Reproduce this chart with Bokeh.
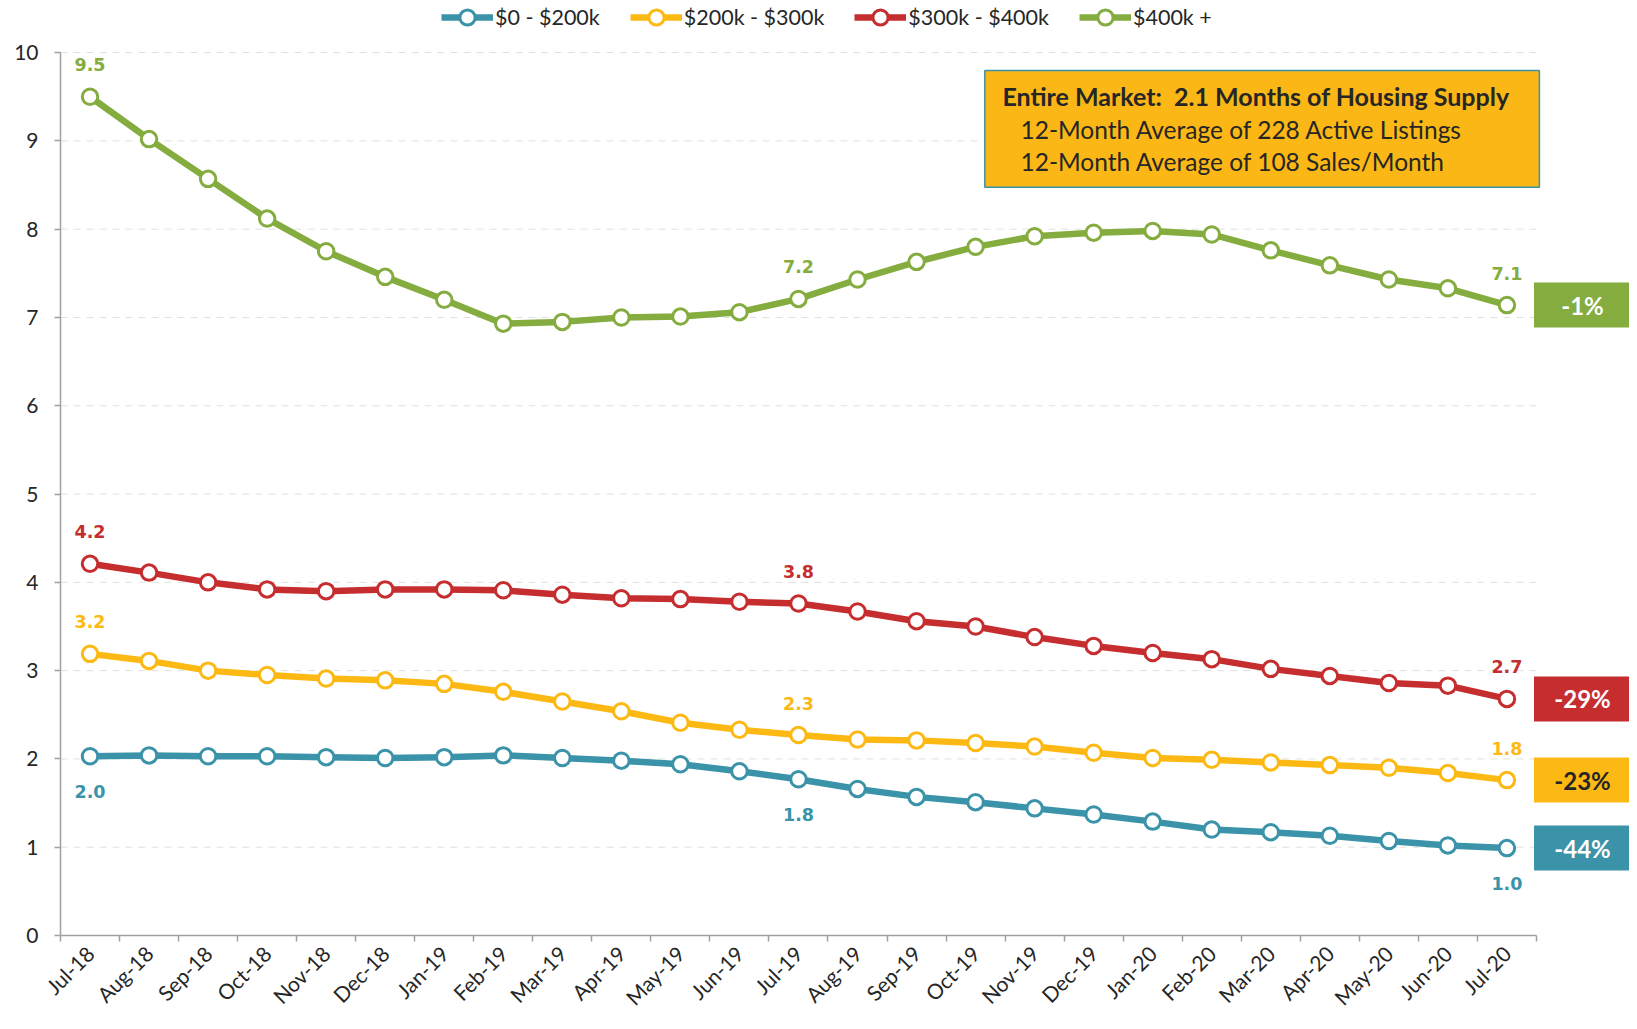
import math
from bokeh.plotting import figure
from bokeh.models import (ColumnDataSource, Range1d, FixedTicker, Legend, LegendItem,
                          BoxAnnotation, Label)
from bokeh.core.properties import value
from bokeh.embed import file_html
from bokeh.resources import INLINE

# ---------------- data ----------------
months = ["Jul-18", "Aug-18", "Sep-18", "Oct-18", "Nov-18", "Dec-18", "Jan-19", "Feb-19",
          "Mar-19", "Apr-19", "May-19", "Jun-19", "Jul-19", "Aug-19", "Sep-19", "Oct-19",
          "Nov-19", "Dec-19", "Jan-20", "Feb-20", "Mar-20", "Apr-20", "May-20", "Jun-20",
          "Jul-20"]

series_names = ["$0 - $200k", "$200k - $300k", "$300k - $400k", "$400k +"]

s_0_200 = [2.03, 2.04, 2.03, 2.03, 2.02, 2.01, 2.02, 2.04, 2.01, 1.98, 1.94, 1.86, 1.77,
           1.66, 1.57, 1.51, 1.44, 1.37, 1.29, 1.20, 1.17, 1.13, 1.07, 1.02, 0.99]
s_200_300 = [3.19, 3.11, 3.00, 2.95, 2.91, 2.89, 2.85, 2.76, 2.65, 2.54, 2.41, 2.33, 2.27,
             2.22, 2.21, 2.18, 2.14, 2.07, 2.01, 1.99, 1.96, 1.93, 1.90, 1.84, 1.76]
s_300_400 = [4.21, 4.11, 4.00, 3.92, 3.90, 3.92, 3.92, 3.91, 3.86, 3.82, 3.81, 3.78, 3.76,
             3.67, 3.56, 3.50, 3.38, 3.28, 3.20, 3.13, 3.02, 2.94, 2.86, 2.83, 2.68]
s_400_up = [9.50, 9.02, 8.57, 8.12, 7.75, 7.46, 7.20, 6.93, 6.95, 7.00, 7.01, 7.06, 7.21,
            7.43, 7.63, 7.80, 7.92, 7.96, 7.98, 7.94, 7.76, 7.59, 7.43, 7.33, 7.14]

yoy_change = ["-44%", "-23%", "-29%", "-1%"]
y_ticks = [0, 1, 2, 3, 4, 5, 6, 7, 8, 9, 10]

info_title = "Entire Market:\u00a0 2.1 Months of Housing Supply"
info_lines = ["12-Month Average of 228 Active Listings", "12-Month Average of 108 Sales/Month"]

# ---------------- style ----------------
FONT = "Lato"
LABEL_FONT = "DejaVu Sans"
colors = ["#3A93A8", "#FDB913", "#C62D2F", "#84AC3E"]
badge_text_colors = ["white", "#262626", "white", "white"]
label_below = [True, False, False, False]
TEXT = "#262626"
AXIS = "#A0A0A0"

series_values = [s_0_200, s_200_300, s_300_400, s_400_up]
x_idx = list(range(len(months)))

# the frame reaches the top of the page so that the legend can sit inside it
p = figure(width=1629, height=1021, output_backend="svg", toolbar_location=None,
           x_range=Range1d(-0.5, 26.076), y_range=Range1d(0, 10.59),
           min_border_left=60, min_border_right=0, min_border_top=0, min_border_bottom=83)
p.outline_line_color = None
p.xgrid.grid_line_color = None
p.ygrid.grid_line_color = None
p.background_fill_color = "white"

# horizontal dashed grid lines (limited to the category axis extent)
p.segment(x0=-0.5, x1=len(months) - 0.5, y0=y_ticks[1:], y1=y_ticks[1:],
          line_color="#E0E0E0", line_width=1, line_dash="7 6", level="underlay")

items = []
for name, vals, col in zip(series_names, series_values, colors):
    src = ColumnDataSource(dict(x=x_idx, y=vals))
    ln = p.line("x", "y", source=src, line_color=col, line_width=6.5, line_join="round")
    sc = p.scatter("x", "y", source=src, marker="circle", size=15.5, fill_color="white",
                   line_color=col, line_width=3)
    items.append(LegendItem(label=name, renderers=[ln, sc]))

# data labels at first, middle and last month
for vals, col, below in zip(series_values, colors, label_below):
    idx = [0, 12, len(vals) - 1]
    p.text(x=idx, y=[vals[i] for i in idx], text=["%.1f" % vals[i] for i in idx],
           text_color=col, text_font=value(LABEL_FONT), text_font_style="bold",
           text_font_size="17.5px", text_align="center", text_baseline="middle",
           y_offset=35 if below else -32)

# right-hand badges centred on the last value
lasts = [v[-1] for v in series_values]
p.rect(x=25.28, y=lasts, width=97, height=45, width_units="screen", height_units="screen",
       fill_color=colors, line_color=None)
p.text(x=25.28, y=lasts, text=yoy_change, text_color=badge_text_colors,
       text_font=value(FONT), text_font_style="bold", text_font_size="24px",
       text_align="center", text_baseline="middle")

# info box
box = BoxAnnotation(left=15.156, right=24.55, top=9.797, bottom=8.475,
                    fill_color="#FBB715", fill_alpha=1.0,
                    line_color="#3A93A8", line_width=1.5, line_alpha=1.0)
p.add_layout(box)
p.add_layout(Label(x=15.455, y=9.505, text=info_title, text_font=FONT,
                   text_font_style="bold", text_font_size="25px", text_color=TEXT,
                   text_baseline="middle"))
for i, t in enumerate(info_lines):
    p.add_layout(Label(x=15.76, y=9.127 - i * 0.356, text=t, text_font=FONT,
                       text_font_size="24.5px", text_color=TEXT, text_baseline="middle"))

# axes
xa = p.xaxis[0]
xa.ticker = FixedTicker(ticks=x_idx, minor_ticks=[i - 0.5 for i in range(len(months) + 1)])
xa.major_label_overrides = {i: m for i, m in enumerate(months)}
xa.major_label_orientation = math.pi / 4
xa.bounds = (-0.5, len(months) - 0.5)
xa.major_tick_line_color = None
xa.minor_tick_line_color = AXIS
xa.minor_tick_line_width = 1.5
xa.minor_tick_out = 6
xa.minor_tick_in = 0
xa.axis_line_color = AXIS
xa.axis_line_width = 1.5
xa.major_label_text_font = FONT
xa.major_label_text_font_size = "21px"
xa.major_label_text_color = TEXT
xa.major_label_standoff = 8

ya = p.yaxis[0]
ya.ticker = FixedTicker(ticks=y_ticks, minor_ticks=[])
ya.bounds = (0, 10)
ya.major_tick_out = 6
ya.major_tick_in = 0
ya.major_tick_line_color = AXIS
ya.major_tick_line_width = 1.5
ya.axis_line_color = AXIS
ya.axis_line_width = 1.5
ya.major_label_text_font = FONT
ya.major_label_text_font_size = "21px"
ya.major_label_text_color = TEXT
ya.major_label_standoff = 16

legend = Legend(items=items, orientation="horizontal", location=(381, 899),
                label_text_font=FONT, label_text_font_size="21.5px", label_text_color=TEXT,
                glyph_width=52, glyph_height=38, label_height=24, label_standoff=2,
                spacing=30, padding=0, margin=0, border_line_color=None,
                background_fill_alpha=0)
p.add_layout(legend)

open("out.html", "w").write(file_html(p, INLINE))
